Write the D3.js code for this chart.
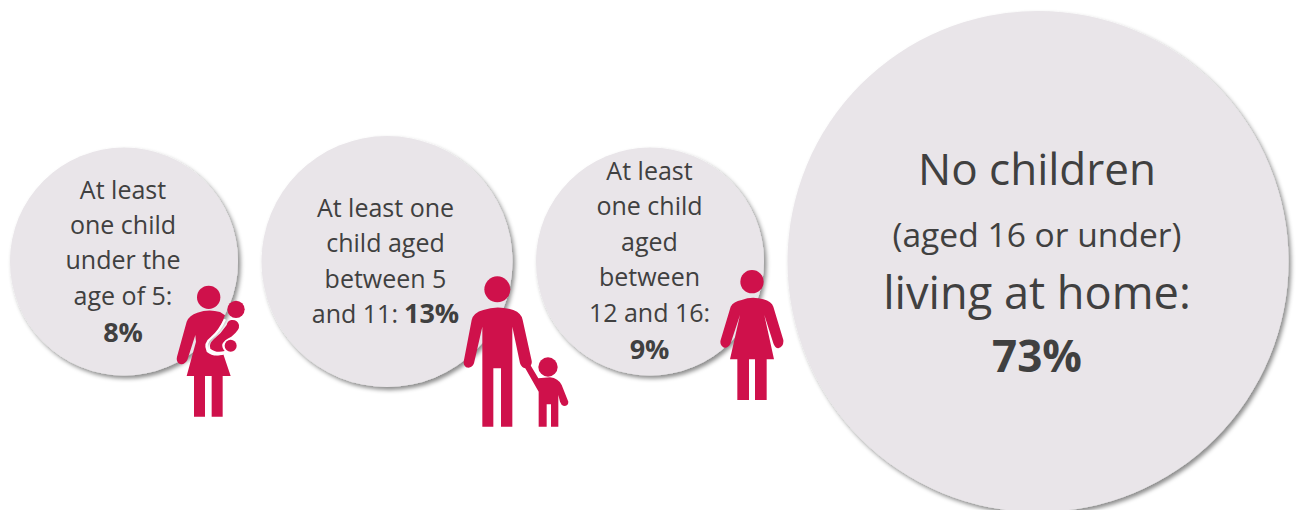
<!DOCTYPE html>
<html>
<head>
<meta charset="utf-8">
<script src="https://cdn.jsdelivr.net/npm/d3@7"></script>
<style>
  html, body { margin: 0; padding: 0; background: #fff; overflow: hidden; }
  text { font-family: "Open Sans", sans-serif; fill: #404040; text-anchor: middle; }
</style>
</head>
<body>
<script>
// Share of households by age of the children living at home
const categories = ["under5", "age5to11", "age12to16", "none"];
const values = [8, 13, 9, 73];
const labelLines = [
  ["At least", "one child", "under the", "age of 5:"],
  ["At least one", "child aged", "between 5", "and 11:"],
  ["At least", "one child", "aged", "between", "12 and 16:"],
  ["No children", "(aged 16 or under)", "living at home:"]
];
const valueInline = [false, true, false, false];

// Bubble size by share
const radius = d3.scaleLinear().domain([8, 9, 13, 73]).range([114, 114, 125.5, 250.5]);

const width = 1301, height = 510;
const svg = d3.select("body").append("svg").attr("width", width).attr("height", height);

const shadow = svg.append("defs").append("filter").attr("id", "soft")
  .attr("x", "-10%").attr("y", "-10%").attr("width", "120%").attr("height", "120%");
shadow.append("feDropShadow").attr("dx", 2.5).attr("dy", 3).attr("stdDeviation", 2)
  .attr("flood-color", "#000").attr("flood-opacity", 0.45);

// Bubbles sit side by side with an even gap
const gap = 23.5, centreY = 261.5;
let cursor = 10;
const bubbles = categories.map((key, i) => {
  const r = radius(values[i]);
  const b = { key, value: values[i], r, x: cursor + r, y: centreY, lines: labelLines[i], inline: valueInline[i] };
  cursor += 2 * r + gap;
  return b;
});

svg.selectAll("circle.bubble").data(bubbles).join("circle")
  .attr("class", "bubble")
  .attr("cx", d => d.x).attr("cy", d => d.y).attr("r", d => d.r)
  .attr("fill", "#e9e5e9").attr("filter", "url(#soft)");

// Text blocks: line offsets from the bubble centre
const textLayout = {
  under5: { size: 25, dx: -1, top: -63, step: 35.4, valueSize: 27 },
  age5to11: { size: 25, dx: -1.5, top: -45, step: 35.6, valueSize: 27 },
  age12to16: { size: 25, dx: -0.5, top: -81.5, step: 35.4, valueSize: 27 }
};

bubbles.filter(b => b.key !== "none").forEach(b => {
  const t = textLayout[b.key];
  const g = svg.append("g").attr("transform", `translate(${b.x + t.dx},${b.y})`);
  b.lines.forEach((line, i) => {
    const el = g.append("text").attr("y", t.top + i * t.step).attr("font-size", t.size).text(line);
    if (b.inline && i === b.lines.length - 1) {
      el.append("tspan").attr("font-weight", 700).attr("font-size", t.valueSize).attr("dx", 6).text(b.value + "%");
    }
  });
  if (!b.inline) {
    g.append("text").attr("y", t.top + b.lines.length * t.step + 1.5)
      .attr("font-size", t.valueSize).attr("font-weight", 700).text(b.value + "%");
  }
});

// The large bubble uses mixed sizes
const big = bubbles[3];
const bigText = svg.append("g").attr("transform", `translate(${big.x - 1},${big.y})`);
[[0, -76.5, 44], [1, -15, 33.6], [2, 47, 45.2]].forEach(([i, y, size]) => {
  bigText.append("text").attr("y", y).attr("font-size", size).text(big.lines[i]);
});
bigText.append("text").attr("y", 110).attr("font-size", 44).attr("font-weight", 700).text(big.value + "%");

// Pictograms, drawn in a 3x unit grid
const ink = "#cf114b";
function icon(x, y, draw) {
  const g = svg.append("g").attr("transform", `translate(${x},${y}) scale(${1 / 3})`);
  draw(g);
}
const head = (g, cx, cy, r) => g.append("circle").attr("cx", cx).attr("cy", cy).attr("r", r).attr("fill", ink);
const shape = (g, d) => g.append("path").attr("d", d).attr("fill", ink);

// Mother carrying a baby: the white curve separates the two figures
icon(160, 270, g => {
  head(g, 146, 82, 35);
  head(g, 228, 118, 26);
  shape(g, "M112,128 Q146,116 180,126 L195,136 Q178,185 155,203 Q132,220 143,243 Q165,262 190,253 L212,318 L188,318 L188,440 L155,440 L155,318 L135,318 L135,440 L102,440 L102,318 L80,318 L108,215 L106,195 L82,270 Q74,285 60,282 Q47,276 51,260 L80,155 Q88,135 112,128Z");
  g.append("path").attr("d", "M195,148 Q178,185 155,203 Q132,220 143,243 Q165,262 205,245")
    .attr("fill", "none").attr("stroke", "#fff").attr("stroke-width", 7);
  shape(g, "M200,165 Q184,190 161,208 Q146,222 151,236 Q168,250 194,243 Q185,232 187,222 Q192,210 214,200 Q240,180 237,165 Q232,148 214,150 Q203,152 200,165Z");
  g.append("circle").attr("cx", 212).attr("cy", 227).attr("r", 18)
    .attr("fill", ink).attr("stroke", "#fff").attr("stroke-width", 5).attr("paint-order", "stroke");
});

// Father holding a child's hand
icon(450, 270, g => {
  head(g, 142, 58, 39);
  shape(g, "M100,120 Q142,105 190,120 Q215,130 218,150 L245,272 Q248,290 228,295 Q215,295 210,280 L187,170 L187,470 L153,470 L153,295 L130,295 L130,470 L97,470 L97,170 L72,280 Q65,297 48,292 Q38,285 42,270 L65,150 Q70,128 100,120Z");
  head(g, 294, 291, 29);
  shape(g, "M265,325 L300,322 Q325,325 335,345 L355,395 Q355,408 342,408 Q333,405 330,395 L325,375 L325,470 L303,470 L303,403 L290,403 L290,470 L266,470 L266,365 L222,288 L238,280Z");
});

// Woman standing
icon(710, 260, g => {
  head(g, 126, 65, 35);
  shape(g, "M95,120 Q126,107 160,118 Q185,125 190,140 L220,240 Q222,260 205,265 Q195,265 190,250 L163,165 L192,298 L170,298 L170,420 L135,420 L135,298 L117,298 L117,420 L82,420 L82,298 L60,298 L90,165 L62,250 Q55,265 42,263 Q28,255 32,240 L62,140 Q70,125 95,120Z");
});
</script>
</body>
</html>
